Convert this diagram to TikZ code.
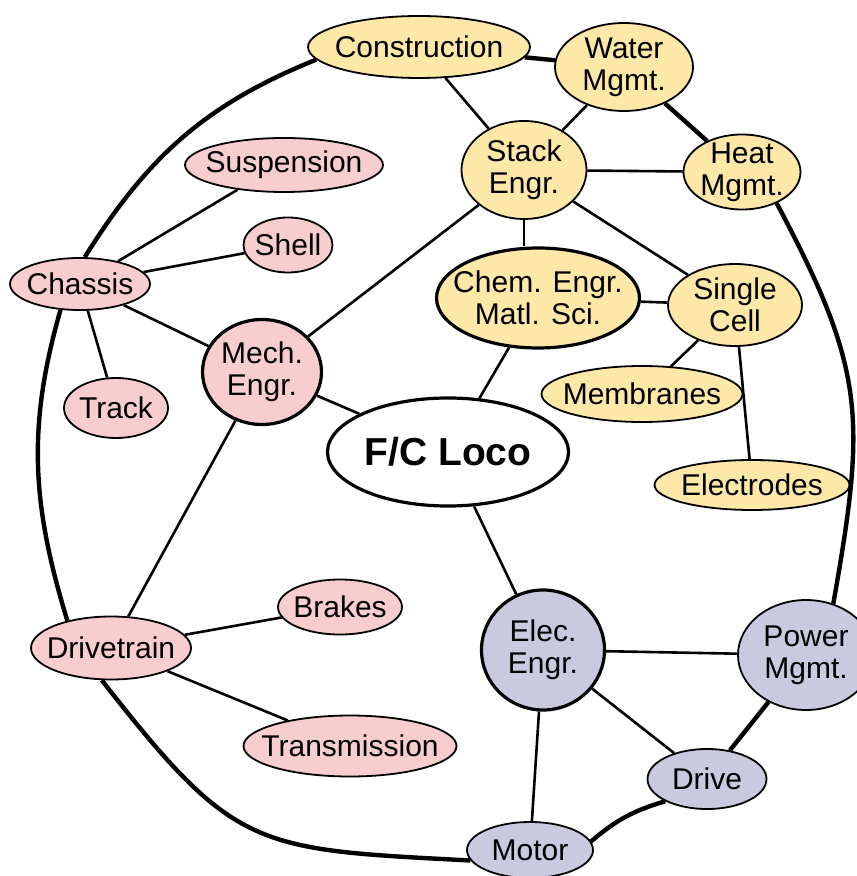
\documentclass[tikz,border=0pt]{standalone}
\usepackage{fontspec}
\setmainfont{Liberation Sans}
\usetikzlibrary{shapes.geometric}
\definecolor{pnk}{HTML}{F8CDCD}
\definecolor{ylw}{HTML}{FDE8A7}
\definecolor{lav}{HTML}{C9C9DF}
\tikzset{
  topic/.style = {ellipse, draw=black, line width=0.9pt,
                  inner xsep=-9pt, inner ysep=-3pt,
                  align=center, font=\fontsize{15}{16}\selectfont},
  mnode/.style = {topic, fill=pnk},
  cnode/.style = {topic, fill=ylw},
  enode/.style = {topic, fill=lav},
  core/.style  = {line width=1.6pt},
  lnk/.style   = {line width=1.3pt},
  rim/.style   = {line width=2.2pt},
}
\begin{document}
\begin{tikzpicture}[x=0.5pt, y=0.5pt]
  \useasboundingbox (0,0) rectangle (856,-876);

  % fuel cell side
  \node[cnode, minimum width=111pt, minimum height=31pt]   (constr) at (419,-47)  {Construction};
  \node[cnode, minimum width=69pt, minimum height=44pt]    (water)  at (624,-67)  {Water\\Mgmt.};
  \node[cnode, minimum width=62.5pt, minimum height=49pt]  (stack)  at (524,-170) {Stack\\Engr.};
  \node[cnode, minimum width=58.5pt, minimum height=37.5pt](heat)   at (742,-172) {Heat\\Mgmt.};
  \node[cnode, core, minimum width=101.5pt, minimum height=50pt] (chem) at (538,-298) {Chem. Engr.\\Matl. Sci.};
  \node[cnode, minimum width=67pt, minimum height=41pt]    (cell)   at (735,-305) {Single\\Cell};
  \node[cnode, minimum width=100.5pt, minimum height=28pt] (membr)  at (642,-394) {Membranes};
  \node[cnode, minimum width=97.5pt, minimum height=25pt]  (electr) at (752,-485) {Electrodes};

  % mechanical side
  \node[mnode, minimum width=99pt, minimum height=27pt]    (susp)    at (284,-165) {Suspension};
  \node[mnode, minimum width=44.5pt, minimum height=27.5pt](shell)   at (288,-245) {Shell};
  \node[mnode, minimum width=70pt, minimum height=26pt]    (chassis) at (80,-284)  {Chassis};
  \node[mnode, core, minimum width=59.5pt, minimum height=52.5pt] (mech) at (262,-372) {Mech.\\Engr.};
  \node[mnode, minimum width=52pt, minimum height=30pt]    (track)   at (116,-408) {Track};
  \node[mnode, minimum width=62pt, minimum height=27.5pt]  (brakes)  at (340,-607) {Brakes};
  \node[mnode, minimum width=80pt, minimum height=31.5pt]  (dtrain)  at (111,-648) {Drivetrain};
  \node[mnode, minimum width=106.5pt, minimum height=30.5pt](trans)  at (350,-746) {Transmission};

  % electrical side
  \node[enode, core, minimum width=61.5pt, minimum height=60pt] (elec) at (543,-650) {Elec.\\Engr.};
  \node[enode, minimum width=68pt, minimum height=55pt]    (power)  at (806,-655) {Power\\Mgmt.};
  \node[enode, minimum width=59.5pt, minimum height=30pt]  (drive)  at (707,-779) {Drive};
  \node[enode, minimum width=63pt, minimum height=28pt]    (motor)  at (530,-850) {Motor};

  \node[topic, core, fill=white, minimum width=120.5pt, minimum height=54pt,
        font=\bfseries\fontsize{19.5}{20}\selectfont] (loco) at (448,-452) {F/C Loco};

  \foreach \i/\j in {constr/stack, water/stack, stack/heat, stack/cell,
                     stack/mech, chem/cell, chem/loco, cell/membr, cell/electr,
                     shell/chassis, chassis/mech, chassis/track,
                     mech/loco, mech/dtrain, loco/elec, dtrain/brakes, dtrain/trans,
                     elec/power, elec/drive, elec/motor}
    \draw[lnk] (\i) -- (\j);
  \draw[lnk] (stack.south) -- (stack.south |- chem.north);
  \draw[lnk] (chassis) -- (susp.208);

  % outer ring
  \draw[rim] (chassis.80) to[out=58, in=202] (constr.187);
  \draw[rim] (constr) -- (water);
  \draw[rim] (water) -- (heat);
  \draw[rim] (heat.-42) to[out=-62, in=80, looseness=1.2] (power.62);
  \draw[rim] (power) -- (drive);
  \draw[rim] (drive.208) to[bend right=12] (motor.8);
  \draw[rim] (motor.190) to[out=177, in=-52, looseness=1.35] (dtrain.-106);
  \draw[rim] (dtrain.148) to[out=107, in=-106] (chassis.-127);

\end{tikzpicture}
\end{document}
